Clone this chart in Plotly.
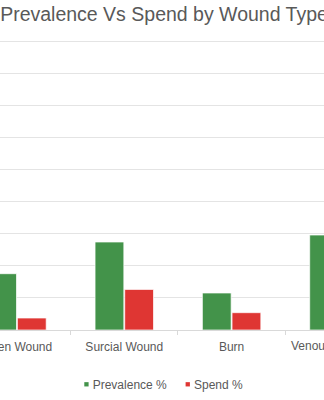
import plotly.graph_objects as go

# Wound categories and their share of prevalence / spend (%)
categories = ["Open Wound", "Surcial Wound", "Burn", "Venous Leg Ulcer"]
prevalence = [8.78, 13.72, 5.77, 14.81]
spend = [1.87, 6.33, 2.70, 10.5]
series_names = ["Prevalence %", "Spend %"]

GREEN = "#43934a"
RED = "#df3633"
TEXT = "#595959"
FONT = "Arial, Liberation Sans, sans-serif"

W, H = 324, 400
T, B = 38, 70
PLOT_H = H - T - B

# visible window over the category axis
x_lo, x_hi = -0.158, 2.861
y_hi = 45.53

fig = go.Figure()
fig.add_trace(go.Bar(
    x=categories, y=prevalence, name=series_names[0],
    marker=dict(color=GREEN, line=dict(color="rgba(255,255,255,0.7)", width=1)),
    showlegend=False,
))
fig.add_trace(go.Bar(
    x=categories, y=spend, name=series_names[1],
    marker=dict(color=RED, line=dict(color="rgba(255,255,255,0.7)", width=1)),
    showlegend=False,
))

# legend entries (labels only; the small keys are drawn as shapes below)
for name in series_names:
    fig.add_trace(go.Scatter(
        x=[None], y=[None], mode="markers", name=name,
        marker=dict(size=1, color="rgba(0,0,0,0)"),
    ))

LEG_X = 52.7          # left edge of the legend block, px
ENTRY_W = 56.3        # label slot width, px
LEG_Y = 384.3         # legend centre line, px
KEY = 4.3             # key square size, px
for i, col in enumerate([GREEN, RED]):
    text_x = LEG_X + 40 + i * (ENTRY_W + 45)
    kx = text_x - 8.4
    fig.add_shape(
        type="rect", xref="paper", yref="paper",
        x0=kx / W, x1=(kx + KEY) / W,
        y0=-(LEG_Y + KEY / 2 - (H - B)) / PLOT_H,
        y1=-(LEG_Y - KEY / 2 - (H - B)) / PLOT_H,
        fillcolor=col, line=dict(width=0), layer="above",
    )

# label of the category that sits past the right edge of the window
span = x_hi - x_lo
fig.add_annotation(
    x=(3 - x_lo) / span, xref="paper", xanchor="center",
    y=0, yref="paper", yanchor="top", yshift=-7,
    text=categories[3], showarrow=False,
    font=dict(family=FONT, size=12, color=TEXT),
)

fig.update_layout(
    width=W, height=H,
    margin=dict(l=0, r=0, t=T, b=B, pad=0, autoexpand=False),
    paper_bgcolor="white", plot_bgcolor="white",
    barmode="group", bargap=0.447, bargroupgap=0.03,
    title=dict(
        text="Prevalence Vs Spend by Wound Type",
        x=164 / W, xanchor="center", xref="container",
        y=1 - 14 / H, yanchor="middle", yref="container",
        font=dict(family=FONT, size=19.5, color=TEXT),
    ),
    font=dict(family=FONT, size=12, color=TEXT),
    legend=dict(
        orientation="h", x=LEG_X / W, xanchor="left",
        y=-(LEG_Y - (H - B)) / PLOT_H, yanchor="middle",
        font=dict(family=FONT, size=12, color=TEXT),
        entrywidth=ENTRY_W, entrywidthmode="pixels",
        itemwidth=30, bgcolor="rgba(0,0,0,0)",
    ),
    xaxis=dict(
        type="category", range=[x_lo, x_hi], automargin=False,
        showgrid=False, showline=True, linecolor="#d9d9d9", linewidth=1,
        ticks="outside", tickson="boundaries", ticklen=4, tickcolor="#d9d9d9",
        ticklabelstandoff=6,
        tickfont=dict(family=FONT, size=12, color=TEXT),
        fixedrange=True,
    ),
    yaxis=dict(
        range=[0, y_hi], dtick=5, showticklabels=False, automargin=False,
        showgrid=True, gridcolor="#e4e4e4", gridwidth=1,
        zeroline=False, showline=False, fixedrange=True,
    ),
)

fig.write_html("out.html", config={"displayModeBar": False})
